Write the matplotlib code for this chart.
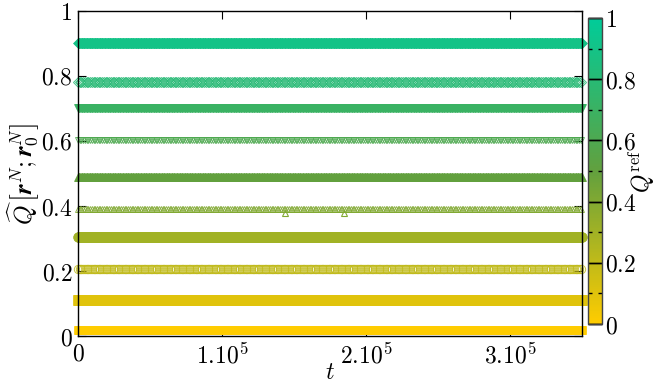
import numpy as np
import matplotlib
matplotlib.use("Agg")
import matplotlib.pyplot as plt
from matplotlib.colors import LinearSegmentedColormap, Normalize
from matplotlib.cm import ScalarMappable

plt.rcParams["mathtext.fontset"] = "cm"
plt.rcParams["font.family"] = "serif"
plt.rcParams["font.serif"] = ["DejaVu Serif"]

# reference overlaps and the mean overlap level each run settles at
q_ref = [0.0, 0.1, 0.2, 0.3, 0.4, 0.5, 0.6, 0.7, 0.8, 0.9]
q_level = [0.019, 0.110, 0.205, 0.306, 0.391, 0.490, 0.604, 0.702, 0.781, 0.901]
markers = ["s", "s", "o", "o", "^", "^", "v", "v", "D", "D"]
filled = [True, True, False, True, False, True, False, True, False, True]
msizes = [6.0, 7.0, 6.0, 7.0, 4.5, 5.5, 5.0, 5.5, 5.0, 5.0]

# sampling times of the trajectories
t_fill = np.arange(0, 350001, 500)
t_open = np.arange(0, 350001, 1200)

# a few isolated excursions of the Q_ref = 0.4 run
t_out = [1.44e5, 1.85e5]
q_out = [0.378, 0.378]

cmap = LinearSegmentedColormap.from_list(
    "qref", [(0.0, "#ffcc00"), (0.5, "#62a03e"), (1.0, "#00cc99")])
norm = Normalize(0, 1)

fig = plt.figure(figsize=(6.56, 3.83), dpi=100)
ax = fig.add_axes([0.1189, 0.1227, 0.7683, 0.8486])
cax = fig.add_axes([0.8963, 0.154, 0.0213, 0.799])

for q, lev, m, f, ms in zip(q_ref, q_level, markers, filled, msizes):
    c = cmap(norm(q))
    if f:
        ax.plot(t_fill, np.full(len(t_fill), lev), ls="none", marker=m, ms=ms,
                mfc=c, mec=c, mew=0.5, clip_on=False)
    else:
        ax.plot(t_open, np.full(len(t_open), lev), ls="none", marker=m, ms=ms,
                mfc="none", mec=c, mew=0.7, alpha=0.85, clip_on=False)

ax.plot(t_out, q_out, ls="none", marker="^", ms=4.0, mfc="none",
        mec=cmap(norm(0.4)), mew=0.8)

ax.set_xlim(0, 3.5e5)
ax.set_ylim(0, 1)
ax.set_xticks([0, 1e5, 2e5, 3e5])
ax.set_xticklabels(["$0$", "$1.10^5$", "$2.10^5$", "$3.10^5$"])
ax.set_yticks([0, 0.2, 0.4, 0.6, 0.8, 1])
ax.set_yticklabels(["$0$", "$0.2$", "$0.4$", "$0.6$", "$0.8$", "$1$"])
ax.tick_params(direction="in", top=True, right=True, length=6, width=0.8,
               labelsize=17, pad=4)
ax.tick_params(axis="x", pad=5)
for s in ax.spines.values():
    s.set_linewidth(1.0)

ax.set_xlabel("$t$", fontsize=17, labelpad=-5)
ax.set_ylabel(r"$\widehat{Q}\,\left[\boldsymbol{r}^N;\boldsymbol{r}_0^N\right]$",
              fontsize=18, labelpad=0)

sm = ScalarMappable(norm=norm, cmap=cmap)
cb = fig.colorbar(sm, cax=cax)
cb.set_ticks([0, 0.2, 0.4, 0.6, 0.8, 1])
cb.set_ticklabels(["$0$", "$0.2$", "$0.4$", "$0.6$", "$0.8$", "$1$"])
cb.ax.set_yticks([0.1, 0.3, 0.5, 0.7, 0.9], minor=True)
cax.tick_params(which="major", direction="in", left=True, right=True,
                length=10, width=1.0, labelsize=17, pad=2)
cax.tick_params(which="minor", direction="in", left=True, right=True,
                length=3, width=1.0)
cb.outline.set_linewidth(1.0)
cb.outline.set_edgecolor("#444444")
cb.set_label(r"$Q^{\rm ref}$", fontsize=17, labelpad=-7)

fig.savefig("out.png", dpi=100)
